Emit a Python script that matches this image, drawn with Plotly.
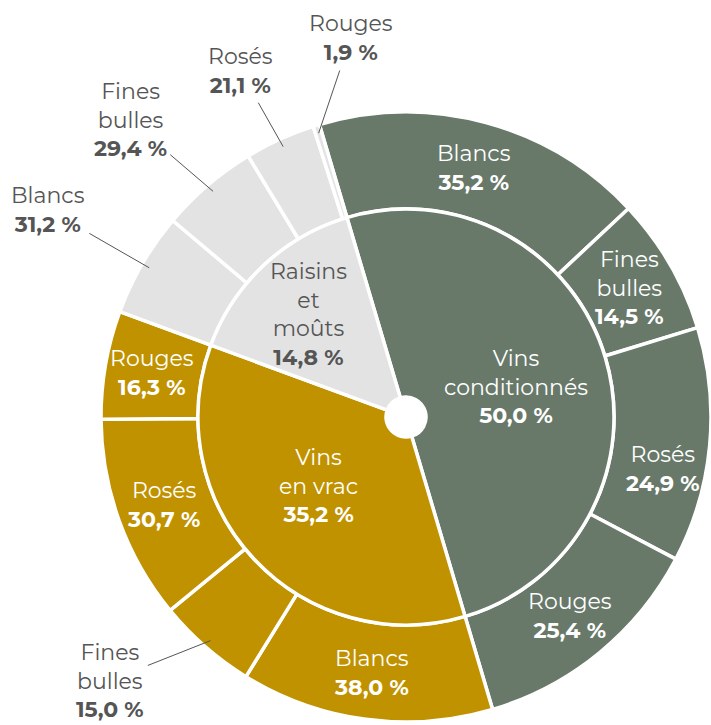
import math
import plotly.graph_objects as go

# ---------------- data ----------------
groups = ["Vins conditionnés", "Vins en vrac", "Raisins et moûts"]
group_display = ["Vins<br>conditionnés", "Vins<br>en vrac", "Raisins<br>et<br>moûts"]
group_shares = [50.0, 35.2, 14.8]

sub_names = ["Blancs", "Fines bulles", "Rosés", "Rouges"]
sub_display = ["Blancs", "Fines<br>bulles", "Rosés", "Rouges"]
sub_conditionnes = [35.2, 14.5, 24.9, 25.4]
sub_vrac = [38.0, 15.0, 30.7, 16.3]
sub_raisins = [31.2, 29.4, 21.1, 1.9]
subs = [sub_conditionnes, sub_vrac, sub_raisins]

# ---------------- style / geometry ----------------
group_colors = ["#68796A", "#C09200", "#E3E3E3"]
label_colors = ["#FFFFFF", "#FFFFFF", "#555555"]
DARK = "#555555"
FONT = "Montserrat, Inter, DejaVu Sans, sans-serif"
FS = 22

W, H = 711, 725
CX, CY = 406, 417          # pie centre in pixels (from top-left)
R_OUT, R_MID, R_HOLE = 305, 208, 20
ROT = -16.5                 # start angle, clockwise from 12 o'clock
R_LAB_OUT = 258
R_LAB_IN = 114
R_TIP = 297

# per-label tweaks (angle shift in degrees, radius)
inner_tweaks = {0: (1.5, 114), 1: (5.0, 111), 2: (-0.5, 141)}
outer_tweaks = {(0, 2): (6.0, 262)}
# outside labels: pixel offset of text from leader-line tip
outside = {(2, 3): (32, -95), (2, 2): (-43, -76), (2, 1): (-83, -71),
           (2, 0): (-101, -58), (1, 1): (-101, 40)}


def fmt(v):
    return f"{v:.1f}".replace(".", ",") + " %"


def domain(r):
    return dict(x=[max(0, (CX - r) / W), min(1, (CX + r) / W)],
                y=[max(0, (H - CY - r) / H), min(1, (H - CY + r) / H)])


def to_paper(angle_deg, r):
    a = math.radians(angle_deg)
    px = CX + r * math.sin(a)
    py = CY - r * math.cos(a)
    return px / W, 1 - py / H


# outer values
outer_vals, outer_cols = [], []
for gi, share in enumerate(group_shares):
    s = sum(subs[gi])
    for v in subs[gi]:
        outer_vals.append(share * v / s)
        outer_cols.append(group_colors[gi])

fig = go.Figure()
fig.add_trace(go.Pie(
    values=outer_vals, labels=[f"{g} - {n}" for g in groups for n in sub_names],
    sort=False, direction="clockwise", rotation=ROT,
    hole=R_MID / R_OUT, domain=domain(R_OUT),
    marker=dict(colors=outer_cols, line=dict(color="white", width=3.5)),
    textinfo="none", hoverinfo="label+value", showlegend=False,
))
fig.add_trace(go.Pie(
    values=group_shares, labels=groups,
    sort=False, direction="clockwise", rotation=ROT,
    hole=R_HOLE / R_MID, domain=domain(R_MID),
    marker=dict(colors=group_colors, line=dict(color="white", width=3.5)),
    textinfo="none", hoverinfo="label+value", showlegend=False,
))

annotations = []
cum = 0.0
for gi, share in enumerate(group_shares):
    g0 = ROT + 360 * cum / 100
    gspan = 360 * share / 100
    # inner label
    dA, rr = inner_tweaks.get(gi, (0, R_LAB_IN))
    x, y = to_paper(g0 + gspan / 2 + dA, rr)
    annotations.append(dict(
        x=x, y=y, xref="paper", yref="paper", showarrow=False,
        text=f"{group_display[gi]}<br><b>{fmt(share)}</b>",
        font=dict(family=FONT, size=FS, color=label_colors[gi]),
        xanchor="center", yanchor="middle", align="center"))
    # outer labels
    s = sum(subs[gi])
    c = 0.0
    for si, v in enumerate(subs[gi]):
        a0 = g0 + gspan * c / s
        span = gspan * v / s
        mid = a0 + span / 2
        text = f"{sub_display[si]}<br><b>{fmt(v)}</b>"
        if (gi, si) in outside:
            ax, ay = outside[(gi, si)]
            x, y = to_paper(mid, R_TIP)
            annotations.append(dict(
                x=x, y=y, xref="paper", yref="paper", showarrow=True,
                ax=ax, ay=ay, arrowhead=0, arrowwidth=1, arrowcolor=DARK,
                standoff=0, startstandoff=3,
                text=text, font=dict(family=FONT, size=FS, color=DARK),
                xanchor="center", yanchor="middle", align="center"))
        else:
            dA, rr = outer_tweaks.get((gi, si), (0, R_LAB_OUT))
            x, y = to_paper(mid + dA, rr)
            annotations.append(dict(
                x=x, y=y, xref="paper", yref="paper", showarrow=False,
                text=text, font=dict(family=FONT, size=FS, color=label_colors[gi]),
                xanchor="center", yanchor="middle", align="center"))
        c += v
    cum += share

fig.update_layout(
    width=W, height=H, margin=dict(l=0, r=0, t=0, b=0),
    paper_bgcolor="white", plot_bgcolor="white",
    annotations=annotations, showlegend=False,
    font=dict(family=FONT),
)

fig.write_html(
    "out.html",
    config={"displayModeBar": False},
    post_script="document.body.style.margin='0';document.body.style.overflow='hidden';",
)
